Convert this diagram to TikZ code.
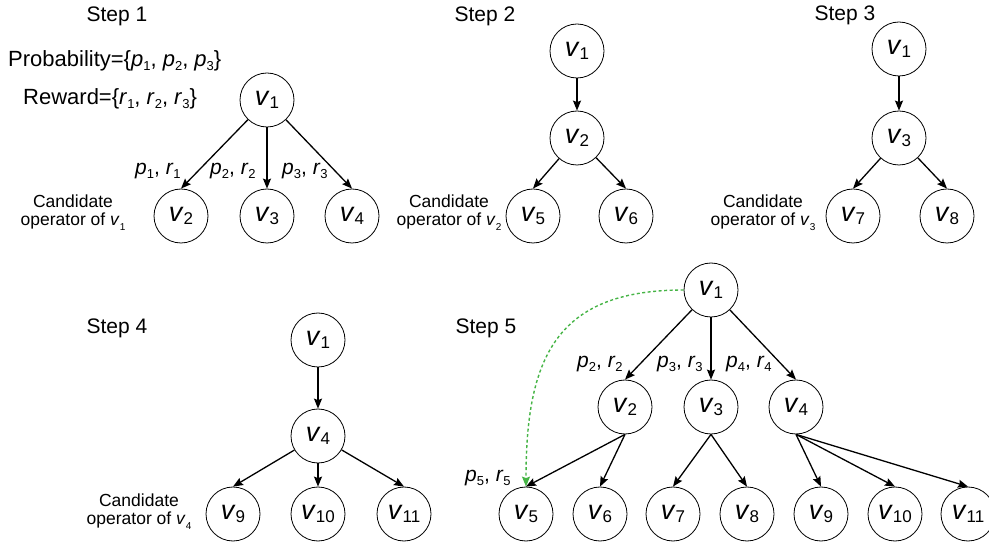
\documentclass[tikz,border=0pt]{standalone}
\usepackage{fontspec}
\setmainfont{Liberation Sans}
\usetikzlibrary{arrows.meta}
\newcommand{\nv}[1]{{\fontsize{27}{27}\selectfont\textit{v}}\raisebox{-3pt}{\fontsize{17}{17}\selectfont #1}}
\newcommand{\sbs}[1]{\raisebox{-4pt}{\fontsize{13}{13}\selectfont #1}}
\newcommand{\csb}[1]{\raisebox{-5pt}{\fontsize{10}{10}\selectfont #1}}
\newcommand{\prl}[2]{\textit{p}\sbs{#1}, \textit{r}\sbs{#2}}
\tikzset{
  vnode/.style={circle, draw, line width=0.8pt, minimum size=54pt, inner sep=0pt},
  arr/.style={line width=1.3pt, -{Stealth[length=10pt,width=8pt,inset=1.5pt]}},
  garr/.style={line width=1.4pt, dash pattern=on 3pt off 2.5pt, draw={rgb,255:red,70;green,180;blue,70}, -{Stealth[length=10pt,width=8pt,inset=1.5pt,fill={rgb,255:red,70;green,180;blue,70}]}},
  steplbl/.style={anchor=base, font=\fontsize{21}{21}\selectfont, inner sep=0pt},
  elbl/.style={anchor=base west, font=\fontsize{21}{21}\selectfont, inner sep=0pt},
  cand/.style={align=center, font=\fontsize{17.5}{18}\selectfont, inner sep=0pt},
  info/.style={anchor=base west, font=\fontsize{22}{22}\selectfont, inner sep=0pt}
}
\begin{document}
\begin{tikzpicture}[x=1pt,y=-1pt]
\useasboundingbox (0,0) rectangle (989,545);
% Step 1
\node[steplbl] (s1) at (117,22) {Step 1};
\node[info] (prob) at (8,67) {Probability=\{\textit{p}\sbs{1}, \textit{p}\sbs{2}, \textit{p}\sbs{3}\}};
\node[info] (rew) at (23,105) {Reward=\{\textit{r}\sbs{1}, \textit{r}\sbs{2}, \textit{r}\sbs{3}\}};
\node[vnode] (a1) at (267,100) {\nv{1}};
\node[vnode] (a2) at (181,216) {\nv{2}};
\node[vnode] (a3) at (267,216) {\nv{3}};
\node[vnode] (a4) at (352,216) {\nv{4}};
\draw[arr] (a1) -- (a2.north);
\draw[arr] (a1) -- (a3.north);
\draw[arr] (a1) -- (a4.north);
\node[elbl] (l12) at (135,175) {\prl{1}{1}};
\node[elbl] (l13) at (210,175) {\prl{2}{2}};
\node[elbl] (l14) at (282,175) {\prl{3}{3}};
\node[cand] (c1) at (73,213) {Candidate\\operator of \textit{v}\csb{1}};
% Step 2
\node[steplbl] (s2) at (485,22) {Step 2};
\node[vnode] (b1) at (577,51) {\nv{1}};
\node[vnode] (b2) at (577,138) {\nv{2}};
\node[vnode] (b5) at (533,216) {\nv{5}};
\node[vnode] (b6) at (626,216) {\nv{6}};
\draw[arr] (b1) -- (b2);
\draw[arr] (b2) -- (b5.north);
\draw[arr] (b2) -- (b6.north);
\node[cand] (c2) at (449,213) {Candidate\\operator of \textit{v}\csb{2}};
% Step 3
\node[steplbl] (s3) at (845,21) {Step 3};
\node[vnode] (d1) at (899,49) {\nv{1}};
\node[vnode] (d3) at (899,138) {\nv{3}};
\node[vnode] (d7) at (853,216) {\nv{7}};
\node[vnode] (d8) at (947,216) {\nv{8}};
\draw[arr] (d1) -- (d3);
\draw[arr] (d3) -- (d7.north);
\draw[arr] (d3) -- (d8.north);
\node[cand] (c3) at (763,213) {Candidate\\operator of \textit{v}\csb{3}};
% Step 4
\node[steplbl] (s4) at (117,334) {Step 4};
\node[vnode] (e1) at (318,340) {\nv{1}};
\node[vnode] (e4) at (318,436) {\nv{4}};
\node[vnode] (e9) at (233,514) {\nv{9}};
\node[vnode] (e10) at (318,514) {\nv{10}};
\node[vnode] (e11) at (404,514) {\nv{11}};
\draw[arr] (e1) -- (e4);
\draw[arr] (e4) -- (e9.north);
\draw[arr] (e4) -- (e10.north);
\draw[arr] (e4) -- (e11.north);
\node[cand] (c4) at (139,512) {Candidate\\operator of \textit{v}\csb{4}};
% Step 5
\node[steplbl] (s5) at (486,334) {Step 5};
\node[vnode] (f1) at (711,290) {\nv{1}};
\node[vnode] (f2) at (625,407) {\nv{2}};
\node[vnode] (f3) at (711,407) {\nv{3}};
\node[vnode] (f4) at (796,407) {\nv{4}};
\node[vnode] (f5) at (526,514) {\nv{5}};
\node[vnode] (f6) at (600,514) {\nv{6}};
\node[vnode] (f7) at (673,514) {\nv{7}};
\node[vnode] (f8) at (747,514) {\nv{8}};
\node[vnode] (f9) at (821,514) {\nv{9}};
\node[vnode] (f10) at (895,514) {\nv{10}};
\node[vnode] (f11) at (968,514) {\nv{11}};
\draw[arr] (f1) -- (f2.north);
\draw[arr] (f1) -- (f3.north);
\draw[arr] (f1) -- (f4.north);
\draw[arr] (f2.south) -- (f5.north);
\draw[arr] (f2.south) -- (f6.north);
\draw[arr] (f3.south) -- (f7.north);
\draw[arr] (f3.south) -- (f8.north);
\draw[arr] (f4.south) -- (f9.north);
\draw[arr] (f4.south) -- (f10.north);
\draw[arr] (f4.south) -- (f11.north);
\draw[garr] (f1.west) to[out=180,in=90,looseness=1.3] (f5.north);
\node[elbl] (m2) at (577,368) {\prl{2}{2}};
\node[elbl] (m3) at (657,368) {\prl{3}{3}};
\node[elbl] (m4) at (726,368) {\prl{4}{4}};
\node[elbl] (m5) at (465,482) {\prl{5}{5}};
\end{tikzpicture}
\end{document}
